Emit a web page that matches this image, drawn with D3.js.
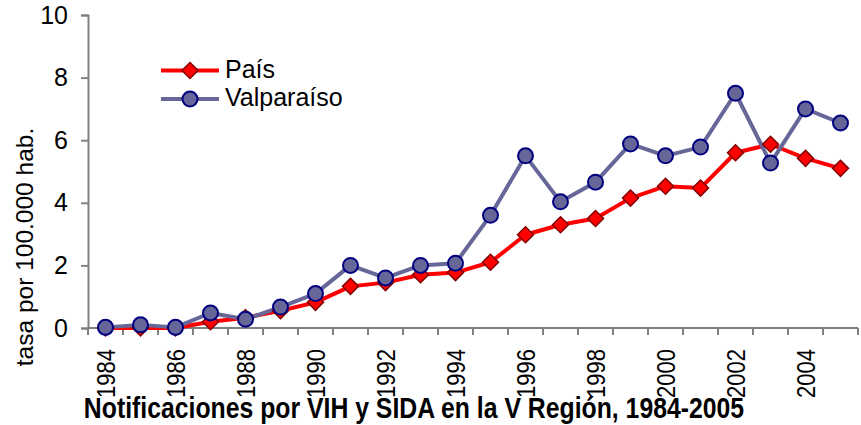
<!DOCTYPE html>
<html>
    <head>
        <meta charset="utf-8">
        <title>Notificaciones VIH SIDA</title>
        <script type="text/javascript" src="https://cdn.jsdelivr.net/npm/d3@7"></script>
        <style>
            body { margin: 0; background: #fff; }
            text { font-family: "Liberation Sans", Arial, sans-serif; }
        </style>
    </head>
    <body>
        <svg id="svg"></svg>

        <script>
            var WIDTH = 861;
            var HEIGHT = 425;

            var years = [1984, 1985, 1986, 1987, 1988, 1989, 1990, 1991, 1992, 1993, 1994,
                         1995, 1996, 1997, 1998, 1999, 2000, 2001, 2002, 2003, 2004, 2005];
            var pais = [0.0, 0.0, 0.0, 0.2, 0.33, 0.55, 0.82, 1.33, 1.45, 1.7, 1.77,
                        2.1, 2.98, 3.3, 3.5, 4.15, 4.53, 4.47, 5.6, 5.87, 5.42, 5.1];
            var valparaiso = [0.02, 0.1, 0.02, 0.48, 0.28, 0.67, 1.1, 2.0, 1.6, 2.0, 2.07,
                              3.6, 5.5, 4.03, 4.66, 5.88, 5.5, 5.78, 7.5, 5.27, 7.0, 6.55];
            var yTicks = [0, 2, 4, 6, 8, 10];
            var labelYears = [1984, 1986, 1988, 1990, 1992, 1994, 1996, 1998, 2000, 2002, 2004];

            var series = [
                {name: "País", values: pais, line: "#ff0000", fill: "#ff0000", stroke: "#800000", shape: "diamond"},
                {name: "Valparaíso", values: valparaiso, line: "#666699", fill: "#666699", stroke: "#000080", shape: "circle"}
            ];

            var svg = d3.select('#svg')
                        .attr('width', WIDTH)
                        .attr('height', HEIGHT);

            var x = d3.scaleBand().domain(years).range([88, 858]).padding(0);
            var y = d3.scaleLinear().domain([0, 10]).range([328, 15]);
            var cx = function(i){ return x(years[i]) + x.bandwidth()/2; };

            // y axis
            var yAxis = svg.append('g')
                .attr('transform', 'translate(88,0)')
                .call(d3.axisLeft(y).tickValues(yTicks).tickSize(7).tickPadding(13));
            yAxis.select('.domain').attr('stroke', '#808080').attr('stroke-width', 2);
            yAxis.selectAll('.tick line').attr('stroke', '#808080').attr('stroke-width', 2);
            yAxis.selectAll('.tick text')
                 .attr('font-size', '25px')
                 .attr('fill', '#000')
                 .style('font-family', '"Liberation Sans", Arial, sans-serif');

            // x axis line + boundary ticks
            svg.append('line')
               .attr('x1', 88).attr('x2', 858)
               .attr('y1', y(0)).attr('y2', y(0))
               .attr('stroke', '#808080').attr('stroke-width', 2);
            var bounds = years.map(function(d){ return x(d); }).concat([x.range()[1]]);
            svg.selectAll('.xtick')
               .data(bounds)
               .enter()
               .append('line')
               .attr('class', 'xtick')
               .attr('x1', function(d){ return d; })
               .attr('x2', function(d){ return d; })
               .attr('y1', y(0))
               .attr('y2', y(0) + 7)
               .attr('stroke', '#808080').attr('stroke-width', 2);

            svg.selectAll('.xlabel')
               .data(labelYears)
               .enter()
               .append('text')
               .attr('class', 'xlabel')
               .attr('transform', function(d){
                   return 'translate(' + (x(d) + x.bandwidth()/2) + ',' + (y(0) + 21) + ') rotate(-90) scale(1,1.2)';
               })
               .attr('text-anchor', 'end')
               .attr('dy', '0.35em')
               .attr('font-size', '22px')
               .text(function(d){ return d; });

            // lines
            var line = d3.line()
                .x(function(d, i){ return cx(i); })
                .y(function(d){ return y(d); });

            series.forEach(function(s){
                svg.append('path')
                   .datum(s.values)
                   .attr('d', line)
                   .attr('fill', 'none')
                   .attr('stroke', s.line)
                   .attr('stroke-width', 4)
                   .attr('stroke-linejoin', 'round');
            });

            var drawMarker = function(g, s, px, py){
                if (s.shape === 'diamond') {
                    g.append('path')
                     .attr('d', 'M' + px + ',' + (py - 8) + 'L' + (px + 8) + ',' + py + 'L' + px + ',' + (py + 8) + 'L' + (px - 8) + ',' + py + 'Z')
                     .attr('fill', s.fill).attr('stroke', s.stroke).attr('stroke-width', 1.5);
                } else {
                    g.append('circle')
                     .attr('cx', px).attr('cy', py).attr('r', 7.5)
                     .attr('fill', s.fill).attr('stroke', s.stroke).attr('stroke-width', 2);
                }
            };

            series.forEach(function(s){
                var g = svg.append('g');
                s.values.forEach(function(v, i){
                    drawMarker(g, s, cx(i), y(v));
                });
            });

            // legend
            series.forEach(function(s, i){
                var ly = 70.5 + i * 28.5;
                var g = svg.append('g');
                g.append('line')
                 .attr('x1', 161).attr('x2', 219)
                 .attr('y1', ly).attr('y2', ly)
                 .attr('stroke', s.line).attr('stroke-width', 4);
                drawMarker(g, s, 190, ly);
                g.append('text')
                 .attr('x', 225).attr('y', ly + 7)
                 .attr('font-size', '25px')
                 .text(s.name);
            });

            // axis title
            svg.append('text')
               .attr('transform', 'translate(33,247) rotate(-90)')
               .attr('text-anchor', 'middle')
               .attr('font-size', '24.5px')
               .text('tasa por 100.000 hab.');

            // chart title
            svg.append('text')
               .attr('transform', 'translate(414,418) scale(1,1.18)')
               .attr('text-anchor', 'middle')
               .attr('font-size', '24.8px')
               .attr('font-weight', 'bold')
               .text('Notificaciones por VIH y SIDA en la V Región, 1984-2005');
        </script>
    </body>
</html>
